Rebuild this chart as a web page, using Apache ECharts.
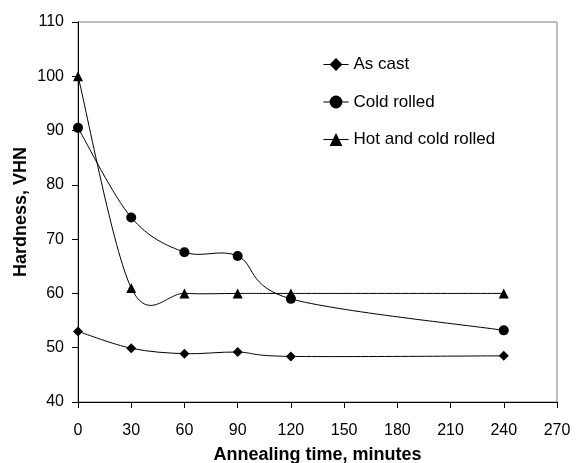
<!DOCTYPE html>
<html><head><meta charset="utf-8">
<script src="https://cdn.jsdelivr.net/npm/echarts@6/dist/echarts.min.js"></script>
<style>html,body{margin:0;padding:0;background:#fff}#c{width:576px;height:463px}</style>
</head><body><div id="c"></div>
<script>
const times = [0, 30, 60, 90, 120, 240];
const asCast = [53, 49.9, 48.9, 49.2, 48.4, 48.5];
const coldRolled = [90.5, 74, 67.6, 66.9, 59, 53.2];
const hotCold = [100, 61, 60, 60, 60, 60];
const seriesNames = ['As cast', 'Cold rolled', 'Hot and cold rolled'];
const xTitle = 'Annealing time, minutes';
const yTitle = 'Hardness, VHN';

const font = 'Liberation Sans, Arial, sans-serif';
const pairs = arr => times.map((t, i) => [t, arr[i]]);

// Smoothed curve (Catmull-Rom style Bezier in pixel space) drawn through the library's coordinate system
function curveSeries(name, values) {
  return {
    name: name + ' curve', type: 'custom', z: 1, silent: true,
    data: pairs(values),
    renderItem: function (params, api) {
      if (params.dataIndex !== 0) return null;
      const pts = times.map((t, i) => api.coord([t, values[i]]));
      const k = 1 / 6;
      let d = 'M' + pts[0][0] + ' ' + pts[0][1];
      for (let i = 0; i < pts.length - 1; i++) {
        const p0 = pts[Math.max(i - 1, 0)], p1 = pts[i], p2 = pts[i + 1], p3 = pts[Math.min(i + 2, pts.length - 1)];
        const c1 = [p1[0] + (p2[0] - p0[0]) * k, p1[1] + (p2[1] - p0[1]) * k];
        const c2 = [p2[0] - (p3[0] - p1[0]) * k, p2[1] - (p3[1] - p1[1]) * k];
        d += ' C' + c1[0] + ' ' + c1[1] + ' ' + c2[0] + ' ' + c2[1] + ' ' + p2[0] + ' ' + p2[1];
      }
      return { type: 'path', shape: { pathData: d }, style: { fill: 'none', stroke: '#000', lineWidth: 1 } };
    }
  };
}
const mk = (name, data, symbol, size) => ({
  name, type: 'line', data: pairs(data), z: 3,
  symbol, symbolSize: size,
  lineStyle: { color: '#000', width: 1, opacity: 0 },
  itemStyle: { color: '#000' },
  emphasis: { disabled: true }
});
const chart = echarts.init(document.getElementById('c'));
chart.setOption({
  animation: false,
  grid: { left: 78, top: 22, right: 19, bottom: 61, show: true, borderColor: '#808080', borderWidth: 1, containLabel: false, outerBoundsMode: 'none' },
  legend: {
    orient: 'vertical', left: 318, top: 51, itemGap: 20.5, itemWidth: 25, itemHeight: 16,
    textStyle: { fontFamily: font, fontSize: 17, color: '#000' },
    lineStyle: { color: '#000', width: 1, opacity: 1 },
    data: seriesNames
  },
  xAxis: {
    type: 'value', min: 0, max: 270, interval: 30,
    name: xTitle, nameLocation: 'middle', nameGap: 44, nameMoveOverlap: false,
    nameTextStyle: { fontFamily: font, fontSize: 18, fontWeight: 'bold', color: '#000' },
    axisLine: { lineStyle: { color: '#000' } },
    axisTick: { show: true, length: 6, lineStyle: { color: '#000' } },
    axisLabel: { fontFamily: font, fontSize: 16, color: '#000', margin: 21 },
    splitLine: { show: false }
  },
  yAxis: {
    type: 'value', min: 40, max: 110, interval: 10,
    name: yTitle, nameLocation: 'middle', nameGap: 48, nameMoveOverlap: false,
    nameTextStyle: { fontFamily: font, fontSize: 18, fontWeight: 'bold', color: '#000' },
    axisLine: { show: true, lineStyle: { color: '#000' } },
    axisTick: { show: true, length: 6, lineStyle: { color: '#000' } },
    axisLabel: { fontFamily: font, fontSize: 16, color: '#000', margin: 14 },
    splitLine: { show: false }
  },
  series: [
    curveSeries(seriesNames[0], asCast),
    curveSeries(seriesNames[1], coldRolled),
    curveSeries(seriesNames[2], hotCold),
    mk(seriesNames[0], asCast, 'diamond', 10),
    mk(seriesNames[1], coldRolled, 'circle', 10),
    mk(seriesNames[2], hotCold, 'triangle', 10)
  ]
});
</script></body></html>
